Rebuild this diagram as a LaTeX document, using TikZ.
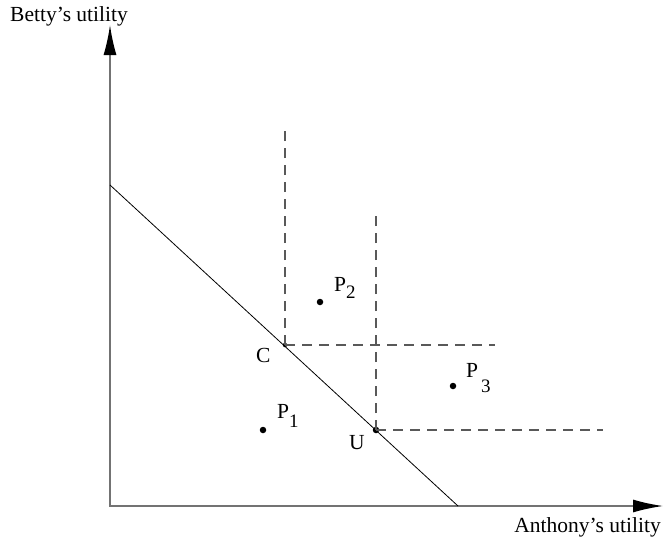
\documentclass[tikz,border=0pt]{standalone}
\usepackage{fontspec}
\setmainfont{Liberation Serif}
\usetikzlibrary{arrows.meta}

\begin{document}
\begin{tikzpicture}[x=1pt,y=-1pt,
  axis/.style={line width=1.6pt,black!55,{Latex[length=30pt,width=13pt,color=black]}-{Latex[length=30pt,width=13pt,color=black]}},
  guide/.style={black!65,line width=1.2pt,dash pattern=on 10pt off 7pt},
  lbl/.style={font=\fontsize{21.5}{24}\selectfont,inner sep=0pt},
  dot/.style={circle,fill,inner sep=0pt,minimum size=6.5pt}]
  \useasboundingbox (0,0) rectangle (664,539);
  % Axes
  \coordinate (O) at (110,506);
  \coordinate (ytip) at (110,25);
  \coordinate (xtip) at (663,506);
  \draw[axis] (ytip) -- (O) -- (xtip);
  \node[lbl,anchor=base west] (ylab) at (10,21) {Betty's utility};
  \node[lbl,anchor=base east] (xlab) at (661,532) {Anthony's utility};
  % Frontier
  \coordinate (ya) at (110,185);
  \coordinate (xa) at (458,506);
  \draw[line width=0.8pt] (ya) -- (xa);
  % Points C and U with their dashed quadrants
  \node[dot,minimum size=4.5pt] (C) at (285,345) {};
  \node[dot] (U) at (376,430) {};
  \coordinate (Ctop) at (285,130);
  \coordinate (Cright) at (495,345);
  \coordinate (Utop) at (376,213);
  \coordinate (Uright) at (603,430);
  \draw[guide] (C.center) -- (Ctop);
  \draw[guide] (C.center) -- (Cright);
  \draw[guide] (U.center) -- (Utop);
  \draw[guide] (U.center) -- (Uright);
  \node[lbl,anchor=base west] (Clab) at (256,362) {C};
  \node[lbl,anchor=base west] (Ulab) at (349,449) {U};
  % Other allocations
  \node[dot] (P1) at (263,430) {};
  \node[dot] (P2) at (320,302) {};
  \node[dot] (P3) at (453,386) {};
  \node[lbl,anchor=base west] (P1lab) at (277,418) {P\raisebox{-9pt}{\fontsize{19}{22}\selectfont 1}};
  \node[lbl,anchor=base west] (P2lab) at (334,291) {P\raisebox{-7pt}{\fontsize{19}{22}\selectfont 2}};
  \node[lbl,anchor=base west] (P3lab) at (466,377) {P\kern3pt\raisebox{-15pt}{\fontsize{19}{22}\selectfont 3}};
\end{tikzpicture}
\end{document}
